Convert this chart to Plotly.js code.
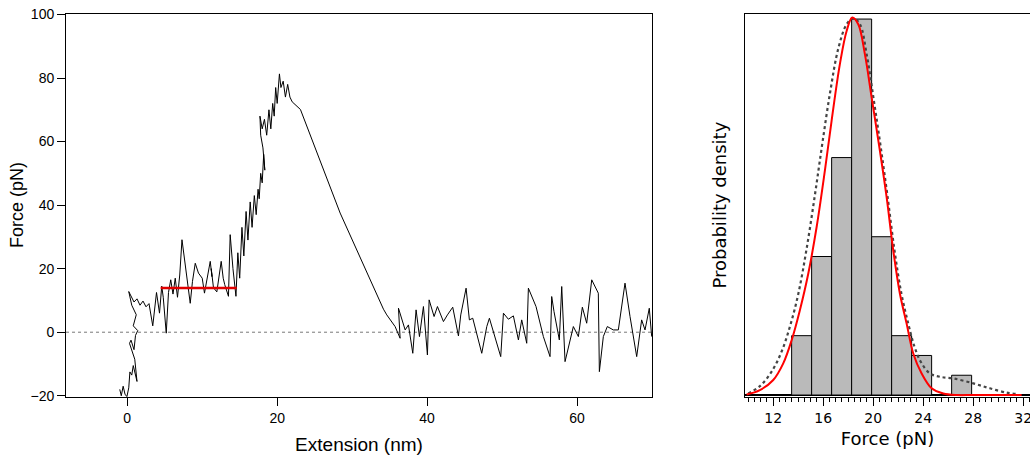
<!DOCTYPE html>
<html><head><meta charset="utf-8">
<script src="https://cdn.plot.ly/plotly-3.0.1.min.js"></script>
<style>html,body{margin:0;padding:0;background:#fff;overflow:hidden}#chart{width:1030px;height:455px}</style>
</head><body><div id="chart"></div>
<script>
// ---- Left panel: force-extension trace, [extension nm, force pN] ----
const plateauSegment = [
  [-1.0,-18.0],[-0.8,-20.0],[-0.55,-17.0],[-0.3,-19.5],[-0.05,-20.3],[0.2,-17.5],[0.35,-12.5],[0.6,-13.5],
  [0.8,-10.5],[1.3,-15.5],[1.0,-8.5],[0.3,-3.5],[0.5,-2.5],[0.9,-5.5],[1.1,-1.0],[1.4,0.5],[0.8,2.0],
  [1.2,5.5],[0.6,8.5],[0.2,12.8],[0.9,9.5],[1.3,10.5],[1.7,8.5],[2.1,9.8],[2.5,8.0],[2.9,9.0],[3.4,2.0],
  [3.9,12.5],[4.3,6.0],[4.6,14.5],[4.8,11.0],[5.2,-0.3],[5.5,12.5],[5.8,16.5],[6.1,12.0],[6.4,17.0],
  [6.7,11.0],[7.0,18.0],[7.3,29.1],[7.8,20.0],[8.4,9.1],[8.7,16.0],[9.07,21.7],[9.5,18.6],[10.0,17.0],
  [10.3,12.3],[11.07,22.3],[11.3,17.5],[11.2,20.0],[11.5,14.0],[11.95,12.7],[12.53,22.3],[12.8,17.0],
  [13.0,15.0],[13.5,11.3],[13.73,30.7],[14.1,20.0],[14.5,11.3]
];
const rampSegment = [
  [14.75,25],[15.0,17],[15.3,33],[15.55,24],[15.85,38],[16.1,29],[16.4,41],[16.65,33],[16.95,43],
  [17.2,37],[17.45,45],[17.6,42],[17.8,50],[18.0,47],[18.2,56],[18.35,51],[18.1,58],[17.8,62],[17.7,68],
  [18.0,64],[18.3,67],[18.6,62],[18.9,70],[19.15,64],[19.4,72],[19.6,68],[19.8,77],[20.0,72],[20.3,81.3],
  [20.5,77],[20.8,79],[21.1,74],[21.4,78],[21.7,74],[22.0,72.5],
  [23.1,70.1],[25.7,54.3],[28.4,37.5],[34.18,7.24]
];
const relaxedSegment = [
  [34.62,5.45],[35.73,1.78],[36.4,-1.9],[36.18,7.55],[37.07,0.72],[37.51,2.3],[38.09,-6.63],[38.53,7.03],
  [38.98,-1.38],[39.51,8.08],[40.04,-7.16],[40.27,10.18],[40.93,4.93],[41.38,8.08],[42.18,3.35],[42.71,5.45],
  [43.42,7.87],[44.18,-1.17],[44.49,5.45],[45.2,13.86],[45.64,3.88],[46.09,4.4],[47.29,-6.63],[47.96,1.78],
  [48.31,4.4],[49.82,-7.68],[50.18,5.98],[50.84,4.09],[51.51,5.14],[52.18,-2.43],[52.62,3.88],[53.29,-3.48],
  [53.51,13.86],[54.53,8.08],[55.51,-1.38],[56.4,-7.68],[56.62,11.23],[56.93,6.5],[57.64,-2.43],[57.96,14.38],
  [58.4,-9.26],[59.51,1.78],[60.18,-1.38],[60.71,7.87],[61.29,2.83],[61.96,16.49],[62.84,12.28],[62.98,-12.41],
  [63.51,-1.38],[64.04,1.78],[64.84,0.72],[65.51,0.72],[66.4,15.44],[67.07,4.93],[67.96,-7.68],[68.62,3.88],
  [69.07,0.72],[69.64,7.55],[69.96,-1.38]
];
const plateauExtension = [4.45, 14.6];
const plateauForce = [13.9, 13.9];
const leftXTicks = [0, 20, 40, 60];
const leftYTicks = [-20, 0, 20, 40, 60, 80, 100];

// ---- Right panel: histogram of plateau forces ----
const binCenters = [14.27, 15.87, 17.47, 19.07, 20.67, 22.27, 23.87, 25.47, 27.07];
const binCounts  = [3, 7, 12, 19, 8, 3, 2, 0, 1];
const binWidth = 1.6;
// fitted curves, read in count-equivalent height
const gaussForce  = [9.87,10.93,12.0,12.8,13.47,14.13,14.8,15.47,16.13,16.67,17.33,17.87,18.32,18.8,19.33,19.87,20.53,21.07,21.6,22.13,22.67,23.2,23.87,24.67,25.6,26.67,28.0,31.87];
const gaussHeight = [0.03,0.25,0.76,1.6,2.77,4.29,6.13,8.49,11.34,13.87,16.72,18.4,19.08,18.74,17.23,15.04,12.35,10.0,7.31,5.13,3.61,2.1,1.09,0.34,0.08,0.0,0.0,0.0];
const modelForce  = [10.0,10.93,11.87,12.67,13.33,14.0,14.67,15.33,15.9,16.55,17.2,17.87,18.4,18.93,19.47,20.05,20.6,21.15,21.7,22.25,22.8,23.3,23.8,24.53,25.33,26.4,28.0,29.33,30.67,31.47];
const modelHeight = [0.08,0.45,1.18,2.2,3.45,5.1,7.4,10.1,12.6,15.3,17.5,18.74,19.04,18.74,17.23,14.87,12.52,10.0,7.31,5.13,3.61,2.44,1.68,1.09,0.92,0.84,0.59,0.34,0.12,0.05];
const rightXTicks = [12, 16, 20, 24, 28, 32];

const total = binCounts.reduce((a, b) => a + b, 0);
const toDensity = v => v / (total * binWidth);

const allPts = plateauSegment.concat(rampSegment, relaxedSegment);
const leftFont = {family: '"Liberation Sans", Arial, sans-serif', color: '#000'};
const rightFont = {family: '"DejaVu Sans", Verdana, sans-serif', color: '#000'};

const traces = [
  {x: allPts.map(p => p[0]), y: allPts.map(p => p[1]), type: 'scatter', mode: 'lines',
   line: {color: '#000', width: 1}, xaxis: 'x', yaxis: 'y', hoverinfo: 'skip'},
  {x: plateauExtension, y: plateauForce, type: 'scatter', mode: 'lines',
   line: {color: '#e00000', width: 2.5}, xaxis: 'x', yaxis: 'y'},
  {x: binCenters, y: binCounts.map(toDensity), type: 'bar', width: binWidth,
   marker: {color: '#bababa', line: {color: '#000', width: 1}}, xaxis: 'x2', yaxis: 'y2'},
  {x: modelForce, y: modelHeight.map(toDensity), type: 'scatter', mode: 'lines',
   line: {color: '#444', width: 2.2, dash: 'dot', shape: 'spline'}, xaxis: 'x2', yaxis: 'y2'},
  {x: gaussForce, y: gaussHeight.map(toDensity), type: 'scatter', mode: 'lines',
   line: {color: '#ff0000', width: 2, shape: 'spline'}, xaxis: 'x2', yaxis: 'y2'}
];

const yDom = [0.1281, 0.9703];
const layout = {
  width: 1030, height: 455, margin: {l: 0, r: 0, t: 0, b: 0},
  paper_bgcolor: '#fff', plot_bgcolor: '#fff', showlegend: false, bargap: 0,
  xaxis: {domain: [0.0641, 0.6330], range: [-8.17, 70.0], tickvals: leftXTicks,
    ticks: 'outside', ticklen: 8, tickcolor: '#000', showline: true, linecolor: '#000', linewidth: 1,
    mirror: true, showgrid: false, zeroline: false, tickfont: Object.assign({size: 14}, leftFont),
    title: {text: 'Extension (nm)', font: Object.assign({size: 19}, leftFont), standoff: 14}},
  yaxis: {domain: yDom, range: [-20.3, 100.3], tickvals: leftYTicks,
    ticks: 'outside', ticklen: 8, tickcolor: '#000', showline: true, linecolor: '#000', linewidth: 1,
    mirror: true, showgrid: false, zeroline: false, tickfont: Object.assign({size: 14}, leftFont),
    title: {text: 'Force (pN)', font: Object.assign({size: 18}, leftFont), standoff: 2}},
  xaxis2: {domain: [0.7233, 1], range: [9.74, 32.54], anchor: 'y2', tickvals: rightXTicks,
    ticklabeloverflow: 'allow',
    ticks: 'outside', ticklen: 8, tickcolor: '#000', showline: true, linecolor: '#000', linewidth: 1,
    mirror: true, showgrid: false, zeroline: false, tickfont: Object.assign({size: 14}, rightFont),
    minor: {dtick: 0.5, tick0: 0, ticks: 'outside', ticklen: 4, tickcolor: '#000', showgrid: false},
    title: {text: 'Force (pN)', font: Object.assign({size: 18}, rightFont), standoff: 7}},
  yaxis2: {domain: yDom, range: [toDensity(-0.085), toDensity(19.28)], anchor: 'x2',
    showticklabels: false, ticks: '', showline: true, linecolor: '#000', linewidth: 1, mirror: true,
    showgrid: false, zeroline: true, zerolinecolor: '#000', zerolinewidth: 2,
    title: {text: 'Probability density', font: Object.assign({size: 18}, rightFont), standoff: 12}},
  shapes: [{type: 'line', xref: 'x domain', yref: 'y', x0: 0, x1: 1, y0: 0, y1: 0, layer: 'below',
    line: {color: '#777', width: 1, dash: 'dot'}}]
};
Plotly.newPlot('chart', traces, layout, {staticPlot: true, displayModeBar: false});
</script></body></html>
